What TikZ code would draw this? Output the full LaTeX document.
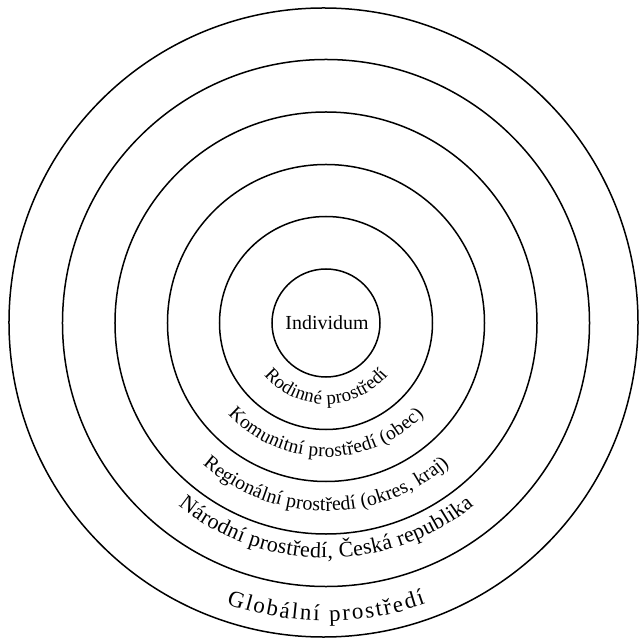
\documentclass[tikz,border=0pt]{standalone}
\usepackage{fontspec}
\setmainfont{Liberation Serif}
\usetikzlibrary{decorations.text}
\begin{document}
\begin{tikzpicture}[x=1bp,y=1bp,
  ring/.style={draw, circle, line width=1.5bp, inner sep=0pt, minimum size=#1},
  arclabel/.style={decorate, decoration={text along path, text align=fit to path, text={#1}}}]
\useasboundingbox (-326,-316) rectangle (313,323);
\node[ring=108bp] (c1) at (0,0) {};
\node[ring=213bp] (c2) at (0,0) {};
\node[ring=317bp] (c3) at (0,0) {};
\node[ring=422bp] (c4) at (0,0) {};
\node[ring=527bp] (c5) at (0,0) {};
\node[ring=629bp] (c6) at (-2.5,0.5) {};
\node[font=\fontsize{20}{22}\selectfont] (ind) at (1,0) {Individum};
\path[arclabel={|\fontsize{19}{21}\selectfont|Rodinné prostředí}]
  (220:81) arc[start angle=220, end angle=320, radius=81];
\path[arclabel={|\fontsize{19.5}{21}\selectfont|Komunitní prostředí (obec)}]
  (223:134) arc[start angle=223, end angle=317, radius=134];
\path[arclabel={|\fontsize{20}{22}\selectfont|Regionální prostředí (okres, kraj)}]
  (229:188) arc[start angle=229, end angle=311, radius=188];
\path[arclabel={|\fontsize{22}{24}\selectfont|Národní prostředí, Česká republika}]
  (231:235) arc[start angle=231, end angle=309, radius=235];
\path[arclabel={|\fontsize{23}{25}\selectfont|Globální prostředí}]
  (250.5:298) arc[start angle=250.5, end angle=289.5, radius=298];
\end{tikzpicture}
\end{document}
